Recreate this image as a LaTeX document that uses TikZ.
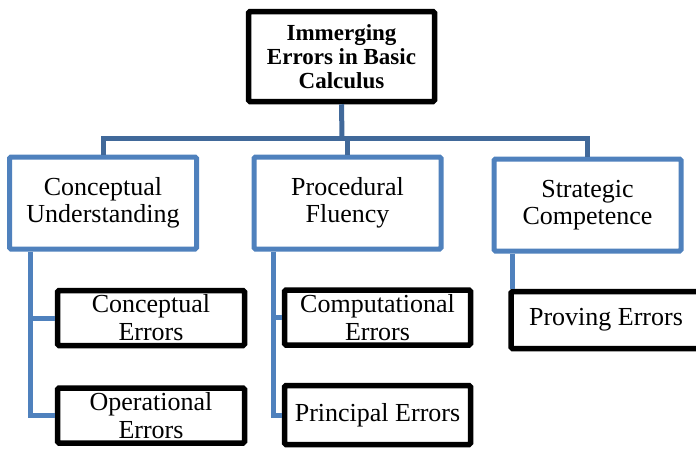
\documentclass[tikz,border=0pt]{standalone}
\usepackage{fontspec}
\setmainfont{Liberation Serif}
\definecolor{boxblue}{HTML}{4F81BD}
\definecolor{linkblue}{HTML}{41699A}
\begin{document}
\begin{tikzpicture}[x=1pt,y=-1pt,
  topbox/.style={draw=black,line width=5.5,rounded corners=1.5,fill=white,align=center,
    minimum width=186,minimum height=90,inner sep=0,
    font=\fontsize{23}{24}\selectfont\bfseries},
  catbox/.style={draw=boxblue,line width=5,rounded corners=1.5,fill=white,align=center,
    minimum width=187,minimum height=92,inner sep=0,
    font=\fontsize{26}{27}\selectfont},
  errbox/.style={draw=black,line width=5.5,rounded corners=1.5,fill=white,align=center,
    minimum width=187,minimum height=55,inner sep=0,
    font=\fontsize{26}{28}\selectfont},
  toplink/.style={draw=linkblue,line width=5},
  sublink/.style={draw=boxblue,line width=5}]
\useasboundingbox (0,0) rectangle (696,448);
\node[topbox] (top) at (341.5,56.5) {Immerging\\Errors in Basic\\Calculus};
\node[catbox] (cu) at (103,203) {Conceptual\\Understanding};
\node[catbox] (pf) at (347.5,203) {Procedural\\Fluency};
\node[catbox] (sc) at (587.5,205) {Strategic\\Competence};
\node[errbox] (ce) at (151,318) {Conceptual\\Errors};
\node[errbox] (oe) at (151,415.5) {Operational\\Errors};
\node[errbox,minimum width=186] (co) at (377.5,317.5) {Computational\\Errors};
\node[errbox,minimum width=186,minimum height=59] (pr) at (377.5,415) {Principal Errors};
\node[errbox,minimum width=190,minimum height=57] (pe) at (606,320) {Proving Errors};
% top connectors
\coordinate (bus) at (342,138);
\draw[toplink] (top.south) -- (bus);
\draw[toplink] (cu.north) |- (bus);
\draw[toplink] (bus) -| (sc.north);
\draw[toplink] (bus -| pf.north) -- (pf.north);
% sub connectors
\draw[sublink] ([xshift=-73]cu.south) |- (oe.west);
\draw[sublink] ([xshift=-73]cu.south |- ce.west) -- (ce.west);
\draw[sublink] ([xshift=-74.5]pf.south) |- (pr.west);
\draw[sublink] ([xshift=-74.5]pf.south |- co.west) -- (co.west);
\draw[sublink] ([xshift=-75.5]sc.south) -- ([xshift=-75.5]sc.south |- pe.north);
\end{tikzpicture}
\end{document}
